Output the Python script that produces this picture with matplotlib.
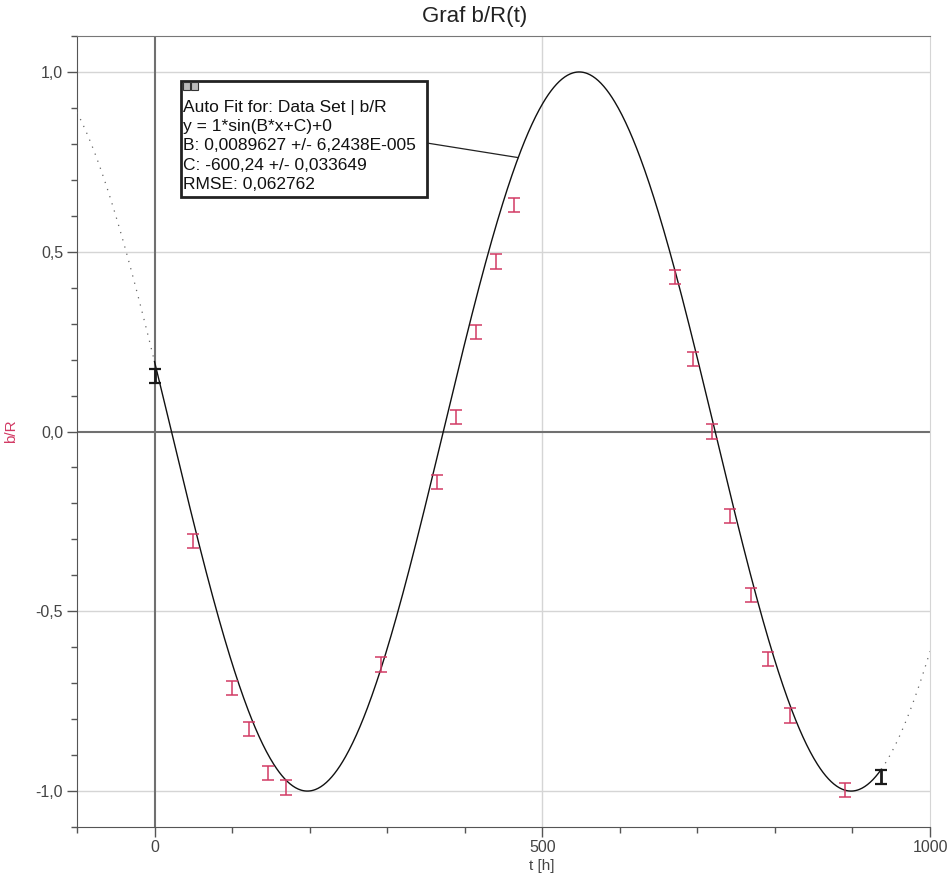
import numpy as np
import matplotlib
matplotlib.use("Agg")
import matplotlib.pyplot as plt
from matplotlib.patches import Rectangle
from matplotlib.ticker import MultipleLocator, FuncFormatter

plt.rcParams["font.family"] = ["Liberation Sans", "DejaVu Sans"]
plt.rcParams["axes.unicode_minus"] = False

# measured points b/R vs t [h]
t_data = [0, 50, 100, 122, 146, 170, 292, 364, 389, 414, 440, 464,
          671, 695, 719, 742, 769, 791, 820, 891, 937]
br_data = [0.155, -0.305, -0.714, -0.828, -0.949, -0.99, -0.648, -0.141,
           0.040, 0.276, 0.473, 0.63, 0.429, 0.201, 0.0, -0.235, -0.455,
           -0.632, -0.79, -0.997, -0.96]
err = 0.02

# fit parameters shown in the box
B = 0.0089627
C = -600.24
fit_text = ("Auto Fit for: Data Set | b/R\n"
            "y = 1*sin(B*x+C)+0\n"
            "B: 0,0089627 +/- 6,2438E-005\n"
            "C: -600,24 +/- 0,033649\n"
            "RMSE: 0,062762")

RED = "#d23a64"


def fit(x):
    return np.sin(B * np.asarray(x) + C)


fig = plt.figure(figsize=(9.49, 8.76), dpi=100)
ax = fig.add_axes([0.0811, 0.0559, 0.8989, 0.9030])
ax.set_xlim(-100, 1000)
ax.set_ylim(-1.1, 1.1)

# grid + zero lines
for yv in (-1, -0.5, 0.5, 1):
    ax.axhline(yv, color="#d5d5d5", lw=1, zorder=0)
ax.axvline(500, color="#d5d5d5", lw=1, zorder=0)
ax.axhline(0, color="#707070", lw=1.5, zorder=1)
ax.axvline(0, color="#707070", lw=1.5, zorder=1)

# fit curve: solid over data range, dotted outside
t_in = np.linspace(t_data[0], t_data[-1], 800)
ax.plot(t_in, fit(t_in), color="#111", lw=1.0, zorder=3)
t_left = np.linspace(-100, t_data[0], 80)
t_right = np.linspace(t_data[-1], 1000, 80)
for tt in (t_left, t_right):
    ax.plot(tt, fit(tt), color="#666", lw=0.9, ls=(0, (1, 5)), zorder=3)

# data with error bars (first and last highlighted)
ax.errorbar(t_data[1:-1], br_data[1:-1], yerr=err, fmt="none", ecolor=RED,
            elinewidth=1.1, capsize=4.5, capthick=1.1, zorder=4)
ax.errorbar([t_data[0], t_data[-1]], [br_data[0], br_data[-1]], yerr=err,
            fmt="none", ecolor="#1a1a1a", elinewidth=2, capsize=4,
            capthick=1.6, zorder=4)

# fit info box
ax.add_patch(Rectangle((0.1219, 0.7965), 0.2884, 0.1470, transform=ax.transAxes,
                       facecolor="white", edgecolor="#222", lw=2, zorder=6))
for x0 in (0.1243, 0.1338):
    ax.add_patch(Rectangle((x0, 0.9317), 0.0085, 0.0100, transform=ax.transAxes,
                           facecolor="#bbb", edgecolor="#333", lw=0.8, zorder=7))
ax.text(0.1245, 0.8610, fit_text, transform=ax.transAxes, ha="left",
        va="center", fontsize=12.5, linespacing=1.36, color="#111", zorder=7)
x_lead = -100 + 0.4103 * 1100
y_lead = -1.1 + 0.8647 * 2.2
ax.plot([x_lead, 469], [y_lead, fit(469)], color="#222", lw=0.9, zorder=5)

# axes styling
ax.spines["left"].set_color("#555")
ax.spines["bottom"].set_color("#555")
ax.spines["top"].set_color("#777")
ax.spines["right"].set_color("#d5d5d5")
ax.xaxis.set_major_locator(MultipleLocator(500))
ax.xaxis.set_minor_locator(MultipleLocator(100))
ax.yaxis.set_major_locator(MultipleLocator(0.5))
ax.yaxis.set_minor_locator(MultipleLocator(0.1))
ax.xaxis.set_major_formatter(FuncFormatter(lambda v, p: f"{v:.0f}"))
ax.yaxis.set_major_formatter(FuncFormatter(lambda v, p: f"{v:.1f}".replace(".", ",")))
ax.tick_params(which="major", length=7, width=1, color="#555",
               labelsize=11.5, labelcolor="#444", pad=3)
ax.tick_params(axis="x", which="major", pad=2)
ax.tick_params(which="minor", length=4, width=1, color="#555")

ax.set_xlabel("t [h]", fontsize=11, color="#444")
ax.xaxis.set_label_coords(0.545, -0.040)
ax.set_ylabel("b/R", fontsize=11, color=RED)
ax.yaxis.set_label_coords(-0.069, 0.5)

fig.text(0.5, 0.981, "Graf b/R(t)", ha="center", va="center", fontsize=16,
         color="#222")

fig.savefig("out.png", dpi=100, facecolor="white")
